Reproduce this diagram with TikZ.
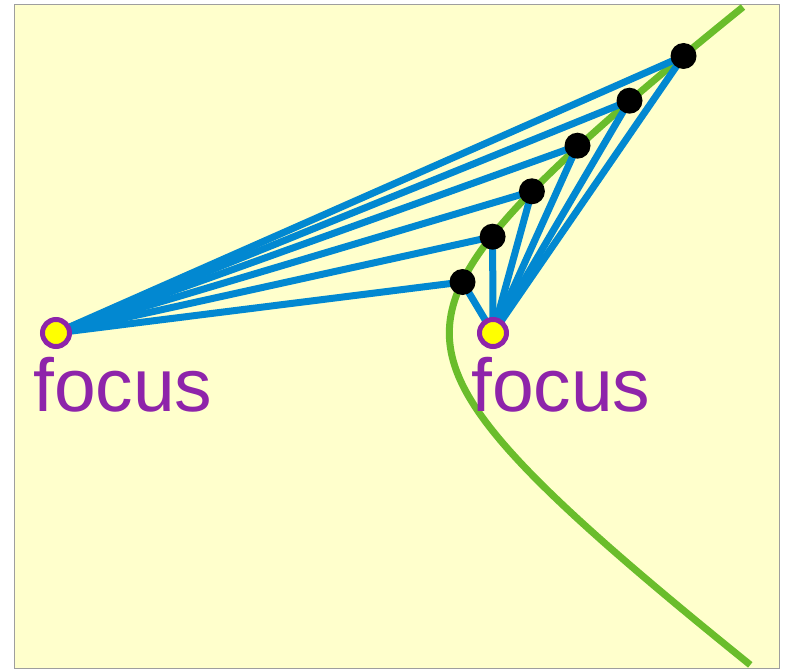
\documentclass[tikz,border=0pt]{standalone}
\usepackage{fontspec}
\setmainfont{Liberation Sans}
\definecolor{bgyellow}{HTML}{FFFFCC}
\definecolor{framegray}{HTML}{9E9E9E}
\definecolor{linkblue}{HTML}{0288D1}
\definecolor{curvegreen}{HTML}{6ABD2B}
\definecolor{focuspurple}{HTML}{8E24AA}
\definecolor{focusyellow}{HTML}{FFFF00}
\begin{document}
\begin{tikzpicture}[x=1pt,y=-1pt,
  link/.style={linkblue,line width=7pt},
  curve/.style={curvegreen,line width=7pt},
  dotpt/.style={circle,fill=black,minimum size=26pt,inner sep=0pt},
  focuspt/.style={circle,fill=focusyellow,draw=focuspurple,line width=5pt,minimum size=27pt,inner sep=0pt},
  focuslabel/.style={text=focuspurple,font=\fontsize{75}{80}\selectfont,anchor=base west,inner sep=0pt}]
\useasboundingbox (0,0) rectangle (786,671);
\filldraw[fill=bgyellow,draw=framegray,line width=1pt] (14,4.5) rectangle (779.5,668.5);
% positions
\coordinate (f1) at (56,333);
\coordinate (f2) at (493,333);
\coordinate (p1) at (683.5,56);
\coordinate (p2) at (629.5,100.7);
\coordinate (p3) at (577.5,145.7);
\coordinate (p4) at (531.9,191.3);
\coordinate (p5) at (492.6,236.7);
\coordinate (p6) at (462.5,282);
% hyperbola branch
\draw[curve] plot[domain=-1.6422:1.6592,samples=120,variable=\t]
  ({274.5+87.4*(exp(\t)+exp(-\t))},{333+65.55*(exp(\t)-exp(-\t))});
% connectors
\foreach \p in {p1,p2,p3,p4,p5,p6}{
  \draw[link] (f1) -- (\p);
  \draw[link] (f2) -- (\p);
}
% points
\foreach \p in {p1,p2,p3,p4,p5,p6}{
  \node[dotpt] (d\p) at (\p) {};
}
\node[focuspt] (F1) at (f1) {};
\node[focuspt] (F2) at (f2) {};
\node[focuslabel] (L1) at (33,411.5) {focus};
\node[focuslabel] (L2) at (471,411.5) {focus};
\end{tikzpicture}
\end{document}
